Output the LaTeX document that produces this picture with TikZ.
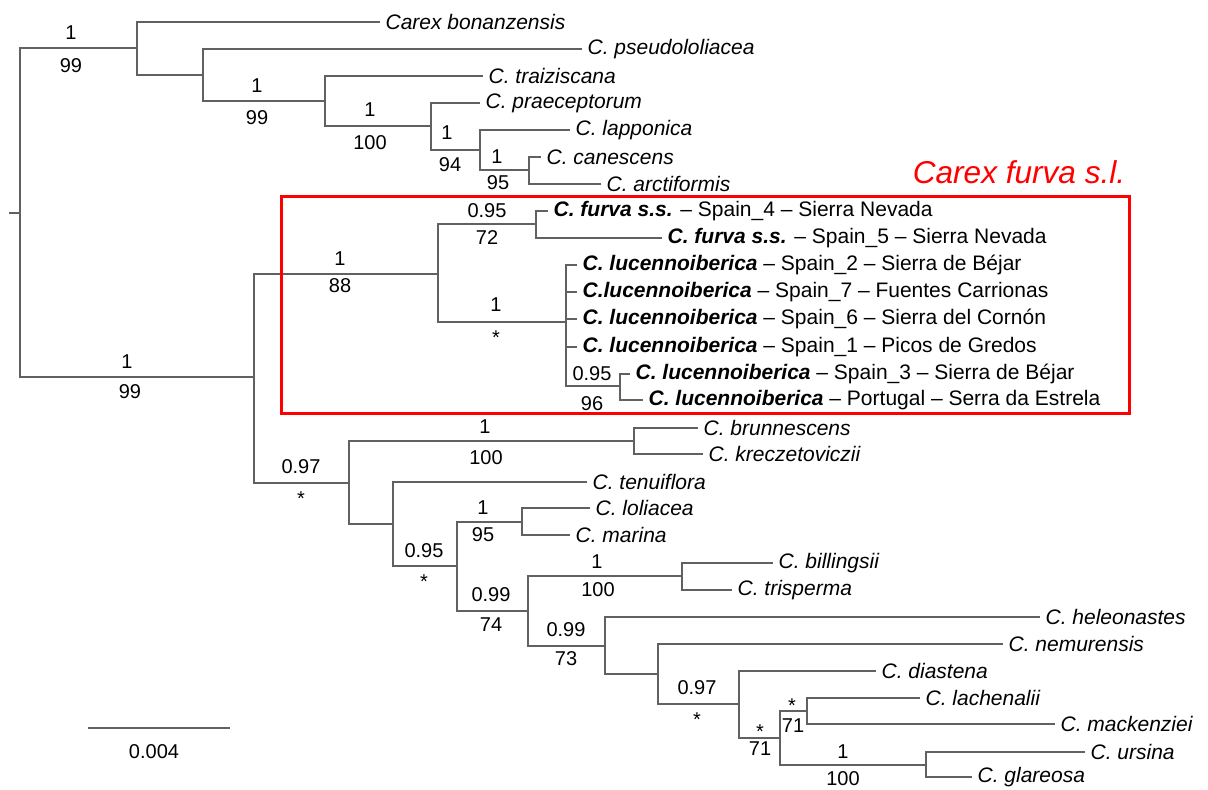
\documentclass[tikz,border=0pt]{standalone}
\usepackage{fontspec}
\setmainfont{Liberation Sans}
\usepackage{tikz}
\newcommand{\branchcolor}{black!62}
\newcommand{\boxcolor}{red}
\newcommand{\thickness}{0.65pt}

\begin{document}
\begin{tikzpicture}[x=0.5pt, y=-0.5pt,
  branch/.style={draw=\branchcolor, line width=\thickness},
  leaf/.style={anchor=west, inner xsep=2.6pt, inner ysep=0pt, font=\fontsize{10.5}{12}\selectfont\itshape},
  supp/.style={inner sep=0pt, font=\fontsize{10}{12}\selectfont}]
\useasboundingbox (0,0) rectangle (1208,789);
%internal nodes
\coordinate (stub) at (9,213);
\coordinate (rt) at (20,213);
\coordinate (A) at (137,48);
\coordinate (B) at (203,75);
\coordinate (C) at (325,101);
\coordinate (D) at (431,126);
\coordinate (E) at (480,150);
\coordinate (F) at (529,170);
\coordinate (X) at (254,377);
\coordinate (G) at (438,274);
\coordinate (H) at (536,224);
\coordinate (I) at (566,322);
\coordinate (J) at (620,386);
\coordinate (K) at (349,483);
\coordinate (L) at (634,441);
\coordinate (M) at (393,524);
\coordinate (N) at (457,566);
\coordinate (O) at (522,522);
\coordinate (P) at (528,611);
\coordinate (Q) at (682,576);
\coordinate (R) at (605,646);
\coordinate (S) at (658,674);
\coordinate (T) at (739,704);
\coordinate (U) at (780,738);
\coordinate (V) at (807,711);
\coordinate (W) at (926,765);
%leaves
\node[leaf] (bon) at (380,22) {Carex bonanzensis};
\node[leaf] (pse) at (582,49) {C. pseudololiacea};
\node[leaf] (tra) at (483,76) {C. traiziscana};
\node[leaf] (pra) at (480,103) {C. praeceptorum};
\node[leaf] (lap) at (570,130) {C. lapponica};
\node[leaf] (can) at (541,157) {C. canescens};
\node[leaf] (arc) at (601,184) {C. arctiformis};
\node[leaf] (fur4) at (548,211) {\textbf{C. furva s.s.} {\upshape – Spain\_4 – Sierra Nevada}};
\node[leaf] (fur5) at (662,238) {\textbf{C. furva s.s.} {\upshape – Spain\_5 – Sierra Nevada}};
\node[leaf] (luc2) at (577,265) {\textbf{C. lucennoiberica} {\upshape – Spain\_2 – Sierra de Béjar}};
\node[leaf] (luc7) at (577,292) {\textbf{C.lucennoiberica} {\upshape – Spain\_7 – Fuentes Carrionas}};
\node[leaf] (luc6) at (577,319) {\textbf{C. lucennoiberica} {\upshape – Spain\_6 – Sierra del Cornón}};
\node[leaf] (luc1) at (577,347) {\textbf{C. lucennoiberica} {\upshape – Spain\_1 – Picos de Gredos}};
\node[leaf] (luc3) at (630,374) {\textbf{C. lucennoiberica} {\upshape – Spain\_3 – Sierra de Béjar}};
\node[leaf] (lucp) at (643,400) {\textbf{C. lucennoiberica} {\upshape – Portugal – Serra da Estrela}};
\node[leaf] (bru) at (698,428) {C. brunnescens};
\node[leaf] (kre) at (703,454) {C. kreczetoviczii};
\node[leaf] (ten) at (587,482) {C. tenuiflora};
\node[leaf] (lol) at (590,508) {C. loliacea};
\node[leaf] (mar) at (570,535) {C. marina};
\node[leaf] (bil) at (773,563) {C. billingsii};
\node[leaf] (tri) at (732,590) {C. trisperma};
\node[leaf] (hel) at (1040,617) {C. heleonastes};
\node[leaf] (nem) at (1003,644) {C. nemurensis};
\node[leaf] (dia) at (876,671) {C. diastena};
\node[leaf] (lac) at (920,698) {C. lachenalii};
\node[leaf] (mac) at (1055,724) {C. mackenziei};
\node[leaf] (urs) at (1085,752) {C. ursina};
\node[leaf] (gla) at (972,777) {C. glareosa};
%branches
\draw[branch] (stub) -- (rt);
\draw[branch] (rt) |- (A);
\draw[branch] (rt) |- (X);
\draw[branch] (A) |- (bon.west);
\draw[branch] (A) |- (B);
\draw[branch] (B) |- (pse.west);
\draw[branch] (B) |- (C);
\draw[branch] (C) |- (tra.west);
\draw[branch] (C) |- (D);
\draw[branch] (D) |- (pra.west);
\draw[branch] (D) |- (E);
\draw[branch] (E) |- (lap.west);
\draw[branch] (E) |- (F);
\draw[branch] (F) |- (can.west);
\draw[branch] (F) |- (arc.west);
\draw[branch] (X) |- (G);
\draw[branch] (X) |- (K);
\draw[branch] (G) |- (H);
\draw[branch] (G) |- (I);
\draw[branch] (H) |- (fur4.west);
\draw[branch] (H) |- (fur5.west);
\draw[branch] (I) |- (luc2.west);
\draw[branch] (I) |- (luc7.west);
\draw[branch] (I) |- (luc6.west);
\draw[branch] (I) |- (luc1.west);
\draw[branch] (I) |- (J);
\draw[branch] (J) |- (luc3.west);
\draw[branch] (J) |- (lucp.west);
\draw[branch] (K) |- (L);
\draw[branch] (K) |- (M);
\draw[branch] (L) |- (bru.west);
\draw[branch] (L) |- (kre.west);
\draw[branch] (M) |- (ten.west);
\draw[branch] (M) |- (N);
\draw[branch] (N) |- (O);
\draw[branch] (N) |- (P);
\draw[branch] (O) |- (lol.west);
\draw[branch] (O) |- (mar.west);
\draw[branch] (P) |- (Q);
\draw[branch] (P) |- (R);
\draw[branch] (Q) |- (bil.west);
\draw[branch] (Q) |- (tri.west);
\draw[branch] (R) |- (hel.west);
\draw[branch] (R) |- (S);
\draw[branch] (S) |- (nem.west);
\draw[branch] (S) |- (T);
\draw[branch] (T) |- (dia.west);
\draw[branch] (T) |- (U);
\draw[branch] (U) |- (V);
\draw[branch] (U) |- (W);
\draw[branch] (V) |- (lac.west);
\draw[branch] (V) |- (mac.west);
\draw[branch] (W) |- (urs.west);
\draw[branch] (W) |- (gla.west);
%support values
\node[supp] (pA) at (71,33) {1};
\node[supp] (bA) at (71,66) {99};
\node[supp] (pC) at (257,86) {1};
\node[supp] (bC) at (257,118) {99};
\node[supp] (pD) at (370,110) {1};
\node[supp] (bD) at (370,143) {100};
\node[supp] (pE) at (447,133) {1};
\node[supp] (bE) at (450,165) {94};
\node[supp] (pF) at (497,157) {1};
\node[supp] (bF) at (498,183) {95};
\node[supp] (pX) at (127,362) {1};
\node[supp] (bX) at (130,392) {99};
\node[supp] (pG) at (340,259) {1};
\node[supp] (bG) at (340,286) {88};
\node[supp] (pH) at (487,211) {0.95};
\node[supp] (bH) at (487,238) {72};
\node[supp] (pI) at (496,305) {1};
\node[supp] (bI) at (496,338) {*};
\node[supp] (pJ) at (592,374) {0.95};
\node[supp] (bJ) at (592,404) {96};
\node[supp] (pK) at (301,467) {0.97};
\node[supp] (bK) at (301,499) {*};
\node[supp] (pL) at (485,427) {1};
\node[supp] (bL) at (486,458) {100};
\node[supp] (pN) at (424,551) {0.95};
\node[supp] (bN) at (424,582) {*};
\node[supp] (pO) at (483,508) {1};
\node[supp] (bO) at (483,535) {95};
\node[supp] (pP) at (491,595) {0.99};
\node[supp] (bP) at (491,625) {74};
\node[supp] (pQ) at (597,562) {1};
\node[supp] (bQ) at (598,590) {100};
\node[supp] (pR) at (566,630) {0.99};
\node[supp] (bR) at (566,659) {73};
\node[supp] (pT) at (697,688) {0.97};
\node[supp] (bT) at (697,720) {*};
\node[supp] (pU) at (760,732) {*};
\node[supp] (bU) at (760,749) {71};
\node[supp] (pV) at (792,706) {*};
\node[supp] (bV) at (793,726) {71};
\node[supp] (pW) at (843,752) {1};
\node[supp] (bW) at (843,779) {100};
%furva box
\coordinate (box1) at (281,196);
\coordinate (box2) at (1129,413);
\draw[\boxcolor, line width=1.5pt] (box1) rectangle (box2);
\node[inner sep=0pt, text=\boxcolor, font=\fontsize{15.8}{18}\selectfont\itshape] (title) at (1019,172) {Carex furva s.l.};
%scale bar
\coordinate (sb1) at (88,728);
\coordinate (sb2) at (230,728);
\draw[branch] (sb1) -- (sb2);
\node[supp] (sbl) at (154,752) {0.004};
\end{tikzpicture}
\end{document}
